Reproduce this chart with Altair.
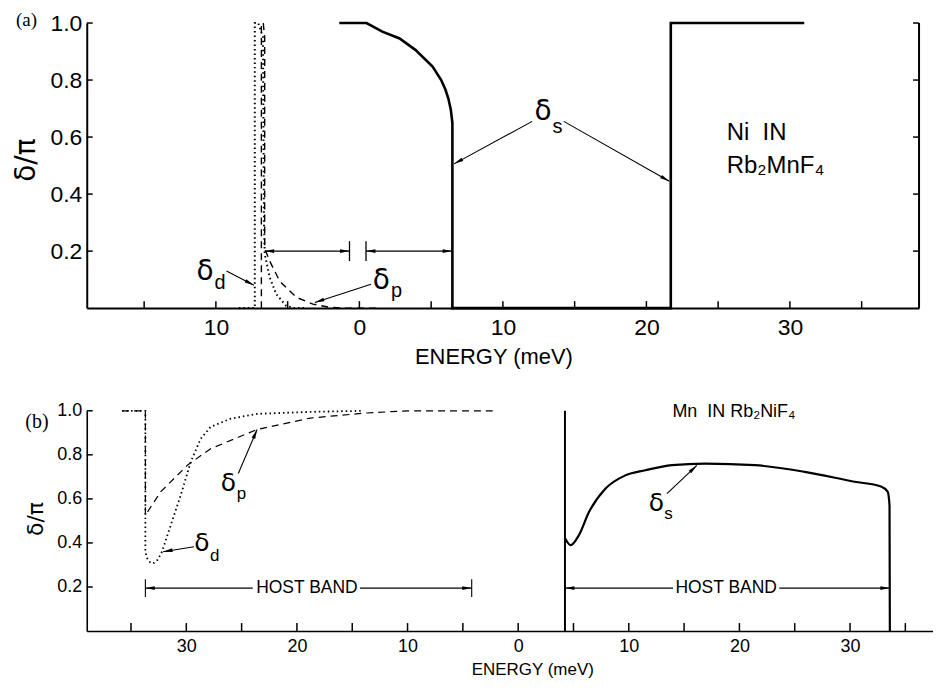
import math
import altair as alt
import pandas as pd

# ---------------- data ----------------
# panel (a): Ni in Rb2MnF4
A_S_X = [-1.4, 0.5, 1.6, 2.8, 3.9, 5.1, 5.7, 6.0, 6.2, 6.37, 6.48, 6.48, 21.7, 21.7, 31.0]
A_S_Y = [1.0, 1.0, 0.97, 0.946, 0.906, 0.847, 0.80, 0.766, 0.735, 0.696, 0.65, 0.0, 0.0, 1.0, 1.0]
A_D_X = [-8.4, -7.29, -7.29, -7.05, -6.72, -6.65, -6.6, -6.25, -5.8, -5.1, -4.5, -3.7]
A_D_Y = [0.0, 0.0, 1.0, 1.0, 0.95, 0.3, 0.19, 0.108, 0.049, 0.008, 0.0, 0.0]
A_P_X = [-6.83, -6.83, -6.7, -6.6, -6.6, -6.25, -5.56, -4.4, -3.24, -2.1, -1.0, 1.2]
A_P_Y = [0.0, 1.0, 1.0, 0.95, 0.21, 0.165, 0.095, 0.038, 0.014, 0.003, 0.0, 0.0]

# panel (b): Mn in Rb2NiF4
B_D_X = [-35.8, -33.7, -33.7, -33.5, -33.2, -32.9, -32.6, -32.2, -31.7, -30.5, -29.6, -28.7, -27.8, -26.0, -23.6, -18.8, -14.0]
B_D_Y = [1.0, 1.0, 0.36, 0.325, 0.308, 0.31, 0.323, 0.36, 0.436, 0.617, 0.768, 0.873, 0.927, 0.964, 0.986, 0.995, 1.0]
B_P_X = [-35.8, -33.7, -33.7, -32.3, -29.9, -27.8, -23.6, -18.8, -13.7, -10.0, -2.3]
B_P_Y = [1.0, 1.0, 0.526, 0.633, 0.753, 0.828, 0.915, 0.967, 0.99, 1.0, 1.0]
B_S_RISE_X = [4.23, 4.23]
B_S_RISE_Y = [0.0, 1.0]
B_S_X = [4.25, 4.74, 5.5, 6.4, 7.9, 9.7, 11.5, 13.9, 16.9, 21.4, 25.9, 30.4, 32.8, 33.4, 33.57, 33.6]
B_S_Y = [0.42, 0.39, 0.436, 0.54, 0.647, 0.707, 0.73, 0.753, 0.76, 0.753, 0.723, 0.678, 0.656, 0.633, 0.57, 0.0]

# axes
A_XDOM = [-19, 39]
B_XDOM = [-39, 37.5]
A_XLABELS = [-10, 0, 10, 20, 30]
B_XLABELS = [-30, -20, -10, 0, 10, 20, 30]
A_XTICKS = [-15, -10, -5, 0, 5, 10, 15, 20, 25, 30, 35]
B_XTICKS = [-35, -30, -25, -20, -15, -10, -5, 0, 5, 10, 15, 20, 25, 30, 35]
Y_TICKS = [0.2, 0.4, 0.6, 0.8, 1.0]

# annotations: greek symbol + subscript
A_SYM_X = [12.8, -10.76, 1.53]
A_SYM_Y = [0.66, 0.10, 0.066]
A_SUB_T = ["s", "d", "p"]
A_SUB_X = [13.45, -10.1, 2.2]
A_SUB_Y = [0.615, 0.068, 0.038]
A_ARR = [(12.04, 0.655, 6.6, 0.506), (14.24, 0.655, 21.6, 0.445),
         (-9.26, 0.13, -7.35, 0.08), (0.81, 0.084, -3.1, 0.02)]
A_BAND_SEG = [(-6.6, -0.69), (0.46, 6.46)]
A_BAND_HEADS = [(-6.6, 270), (-0.69, 90), (0.46, 270), (6.46, 90)]
A_BARS = [-0.69, 0.46]

B_SYM_X = [12.5, -26.2, -28.6]
B_SYM_Y = [0.547, 0.638, 0.362]
B_SUB_T = ["s", "p", "d"]
B_SUB_X = [13.2, -25.45, -27.85]
B_SUB_Y = [0.51, 0.60, 0.32]
B_ARR = [(13.45, 0.624, 16.15, 0.752), (-25.3, 0.715, -23.6, 0.915),
         (-29.3, 0.383, -32.1, 0.36)]
B_BAND_SEG = [(-33.7, -24.0), (-14.3, -4.2), (4.23, 14.0), (23.6, 33.6)]
B_BAND_HEADS = [(-33.7, 270), (-4.2, 90), (4.23, 270), (33.6, 90)]
B_BARS = [-33.7, -4.2]
B_BAND_TXT_X = [-19.1, 18.8]

A_W, A_H = 835, 286
B_W, B_H = 849, 221
FONT = "Liberation Sans"
HEAD = "M0,0L0.6,3L-0.6,3Z"


class Panel:
    def __init__(self, dom, w, h, axx, axy):
        self.dom, self.w, self.h, self.axx, self.axy = dom, w, h, axx, axy
        self.ppu = w / (dom[1] - dom[0])

    def x(self, field="x:Q"):
        return alt.X(field, scale=alt.Scale(domain=self.dom, nice=False, zero=False),
                     axis=self.axx)

    def y(self, field="y:Q"):
        return alt.Y(field, scale=alt.Scale(domain=[0, 1], nice=False, zero=False),
                     axis=self.axy)


def series_df(xs, ys):
    return pd.DataFrame({"x": xs, "y": ys, "i": list(range(len(xs)))})


def line(P, xs, ys, width, dash=None, interp="linear"):
    kw = dict(color="black", strokeWidth=width, clip=False, interpolate=interp)
    if dash:
        kw["strokeDash"] = dash
    return alt.Chart(series_df(xs, ys)).mark_line(**kw).encode(
        x=P.x(), y=P.y(), order="i:Q")


def arrows(P, arr, lw):
    rows = []
    for (x1, y1, x2, y2) in arr:
        ang = math.degrees(math.atan2((x2 - x1) * P.ppu, (y2 - y1) * P.h)) % 360
        rows.append({"x": x1, "y": y1, "x2": x2, "y2": y2, "ang": ang})
    df = pd.DataFrame(rows)
    r = alt.Chart(df).mark_rule(color="black", strokeWidth=lw).encode(
        x=P.x(), y=P.y(), x2="x2:Q", y2="y2:Q")
    hd = alt.Chart(df).mark_point(shape=HEAD, filled=True, size=40, color="black",
                                  opacity=1).encode(
        x=P.x("x2:Q"), y=P.y("y2:Q"), angle=alt.Angle("ang:Q", scale=None))
    return [r, hd]


def ticks(P, xt, ylen_px, xlen_px, right):
    tl = ylen_px / P.h
    xl = xlen_px / P.ppu
    dom = P.dom
    dx = pd.DataFrame({"x": xt, "y": [0.0] * len(xt), "y2": [tl] * len(xt)})
    lay = [alt.Chart(dx).mark_rule(color="black", strokeWidth=1.5).encode(
        x=P.x(), y=P.y(), y2="y2:Q")]
    dy = pd.DataFrame({"y": Y_TICKS, "x": [dom[0]] * 5, "x2": [dom[0] + xl] * 5})
    lay.append(alt.Chart(dy).mark_rule(color="black", strokeWidth=1.5).encode(
        x=P.x(), y=P.y(), x2="x2:Q"))
    if right:
        dr = pd.DataFrame({"y": Y_TICKS, "x": [dom[1] - xl] * 5, "x2": [dom[1]] * 5})
        lay.append(alt.Chart(dr).mark_rule(color="black", strokeWidth=1.5).encode(
            x=P.x(), y=P.y(), x2="x2:Q"))
        dd = pd.DataFrame({"x": [dom[1]], "y": [0.0], "y2": [1.0]})
        lay.append(alt.Chart(dd).mark_rule(color="black", strokeWidth=2).encode(
            x=P.x(), y=P.y(), y2="y2:Q"))
    return lay


def band(P, segs, heads, bars, y, lw, barh):
    dseg = pd.DataFrame({"x": [s[0] for s in segs], "x2": [s[1] for s in segs],
                         "y": [y] * len(segs)})
    lay = [alt.Chart(dseg).mark_rule(color="black", strokeWidth=lw).encode(
        x=P.x(), y=P.y(), x2="x2:Q")]
    dh = pd.DataFrame({"x": [p[0] for p in heads], "y": [y] * len(heads),
                       "ang": [p[1] for p in heads]})
    lay.append(alt.Chart(dh).mark_point(shape=HEAD, filled=True, size=40, color="black",
                                        opacity=1).encode(
        x=P.x(), y=P.y(), angle=alt.Angle("ang:Q", scale=None)))
    if bars:
        b = barh / P.h
        db = pd.DataFrame({"x": bars, "y": [y - b] * len(bars), "y2": [y + b] * len(bars)})
        lay.append(alt.Chart(db).mark_rule(color="black", strokeWidth=lw).encode(
            x=P.x(), y=P.y(), y2="y2:Q"))
    return lay


def symbols(P, sx, sy, st, subx, suby, fs, sfs):
    d1 = pd.DataFrame({"x": sx, "y": sy, "t": ["δ"] * len(sx)})
    d2 = pd.DataFrame({"x": subx, "y": suby, "t": st})
    return [
        alt.Chart(d1).mark_text(font="DejaVu Sans", fontSize=fs, align="center",
                                baseline="alphabetic", color="black").encode(
            x=P.x(), y=P.y(), text="t:N"),
        alt.Chart(d2).mark_text(font=FONT, fontSize=sfs, align="left",
                                baseline="alphabetic", color="black").encode(
            x=P.x(), y=P.y(), text="t:N"),
    ]


def text(P, df, **kw):
    base = dict(font=FONT, color="black", baseline="alphabetic")
    base.update(kw)
    return alt.Chart(pd.DataFrame(df)).mark_text(**base).encode(
        x=P.x(), y=P.y(), text="t:N")


# ---------------- panel (a) ----------------
ax_a = alt.Axis(values=A_XLABELS, labelExpr="abs(datum.value)", ticks=False, grid=False,
                domainColor="black", domainWidth=2, labelColor="black", labelFontSize=23,
                labelPadding=8, title="ENERGY (meV)", titleFontSize=22,
                titleFontWeight="normal", titleColor="black", titlePadding=8, titleX=408)
ay_a = alt.Axis(values=Y_TICKS, format=".1f", ticks=False, grid=False, domainColor="black",
                domainWidth=2, labelColor="black", labelFontSize=23, labelPadding=5,
                title="δ/π", titleFont="DejaVu Sans", titleFontSize=28,
                titleFontWeight="normal", titleColor="black", titleX=-46, titleY=137)
PA = Panel(A_XDOM, A_W, A_H, ax_a, ay_a)

layers_a = [line(PA, A_S_X, A_S_Y, 2.6),
            line(PA, A_D_X, A_D_Y, 2.0, dash=[1.5, 3]),
            line(PA, A_P_X, A_P_Y, 1.4, dash=[7, 5])]
layers_a += ticks(PA, A_XTICKS, 7, 6, True)
layers_a += arrows(PA, A_ARR, 1.1)
layers_a += band(PA, A_BAND_SEG, A_BAND_HEADS, A_BARS, 0.2, 1.3, 10)
layers_a += symbols(PA, A_SYM_X, A_SYM_Y, A_SUB_T, A_SUB_X, A_SUB_Y, 28, 20)
layers_a.append(text(PA, {"x": [25.6, 25.6], "y": [0.59, 0.475],
                          "t": ["Ni\u00a0\u00a0IN", "Rb₂MnF₄"]},
                     fontSize=24, align="left"))
layers_a.append(text(PA, {"x": [-23.2], "y": [0.99], "t": ["(a)"]},
                     font="Liberation Serif", fontSize=19, align="center"))

chart_a = alt.layer(*layers_a).properties(width=A_W, height=A_H)

# ---------------- panel (b) ----------------
ax_b = alt.Axis(values=B_XLABELS, labelExpr="abs(datum.value)", ticks=False, grid=False,
                domainColor="black", domainWidth=1.6, labelColor="black", labelFontSize=18,
                labelPadding=7, title="ENERGY (meV)", titleFontSize=17,
                titleFontWeight="normal", titleColor="black", titlePadding=6, titleX=447)
ay_b = alt.Axis(values=Y_TICKS, format=".1f", ticks=False, grid=False, domainColor="black",
                domainWidth=1.6, labelColor="black", labelFontSize=18, labelPadding=5,
                title="δ/π", titleFont="DejaVu Sans", titleFontSize=22,
                titleFontWeight="normal", titleColor="black", titleX=-39, titleY=108)
PB = Panel(B_XDOM, B_W, B_H, ax_b, ay_b)

layers_b = [line(PB, B_S_RISE_X, B_S_RISE_Y, 2.0),
            line(PB, B_S_X, B_S_Y, 2.2, interp="monotone"),
            line(PB, B_D_X, B_D_Y, 1.8, dash=[1.5, 3]),
            line(PB, B_P_X, B_P_Y, 1.2, dash=[7, 5])]
layers_b += ticks(PB, B_XTICKS, 8, 6, False)
layers_b += arrows(PB, B_ARR, 1.1)
layers_b += band(PB, B_BAND_SEG, B_BAND_HEADS, B_BARS, 0.195, 1.1, 9)
layers_b += symbols(PB, B_SYM_X, B_SYM_Y, B_SUB_T, B_SUB_X, B_SUB_Y, 25, 17)
layers_b.append(text(PB, {"x": B_BAND_TXT_X, "y": [0.195, 0.195],
                          "t": ["HOST BAND", "HOST BAND"]},
                     fontSize=17.5, align="center", baseline="middle"))
layers_b.append(text(PB, {"x": [19.5], "y": [0.973], "t": ["Mn\u00a0\u00a0IN Rb₂NiF₄"]},
                     fontSize=18, align="center"))
layers_b.append(text(PB, {"x": [-43.5], "y": [0.92], "t": ["(b)"]},
                     font="Liberation Serif", fontSize=20, align="center"))

chart_b = alt.layer(*layers_b).properties(width=B_W, height=B_H)

chart = alt.vconcat(chart_a, chart_b, spacing=103, bounds="flush").properties(
    padding={"left": 5, "top": 1, "right": 0, "bottom": 0}
).configure(font=FONT).configure_view(stroke=None)

chart.save("out.html", embed_options={"renderer": "svg", "actions": False})
